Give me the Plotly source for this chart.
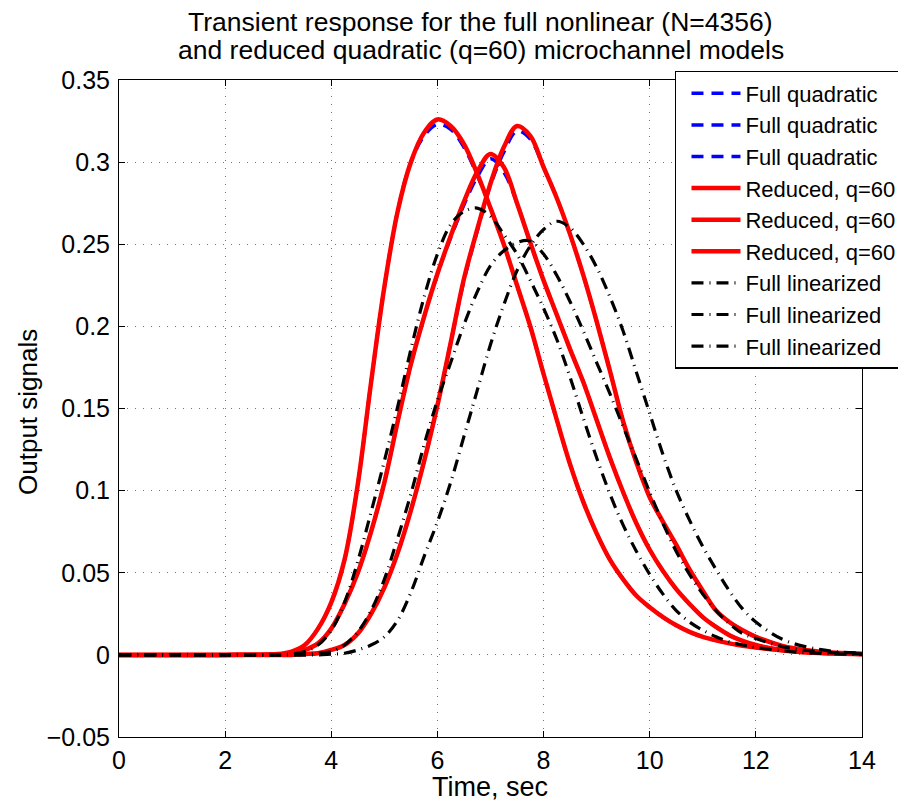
import plotly.graph_objects as go

# ---------------- data ----------------
time = [0, 1, 2,
        3, 3.25, 3.5, 3.75, 4, 4.25, 4.5, 4.75, 5, 5.25, 5.5, 5.75,
        6, 6.25, 6.5, 6.75, 7, 7.25, 7.5, 7.75, 8, 8.25, 8.5, 8.75,
        9, 9.25, 9.5, 9.75, 10, 10.25, 10.5, 10.75, 11, 11.25, 11.5, 11.75,
        12, 12.5, 13, 13.5, 14]

full_quad_1 = [0, 0, 0,
               0.0005, 0.002, 0.006, 0.016, 0.032, 0.058, 0.104, 0.166, 0.224, 0.270, 0.300, 0.316,
               0.323, 0.320, 0.309, 0.292, 0.272, 0.250, 0.225, 0.200, 0.171, 0.143, 0.116, 0.093,
               0.074, 0.058, 0.046, 0.036, 0.029, 0.023, 0.018, 0.014, 0.011, 0.0088, 0.0070, 0.0055,
               0.0045, 0.0027, 0.0016, 0.001, 0.0006]
full_quad_2 = [0, 0, 0,
               0.0003, 0.001, 0.003, 0.007, 0.016, 0.031, 0.050, 0.075, 0.105, 0.142, 0.177, 0.206,
               0.232, 0.254, 0.274, 0.291, 0.302, 0.294, 0.275, 0.251, 0.228, 0.207, 0.186, 0.166,
               0.143, 0.120, 0.099, 0.080, 0.064, 0.051, 0.040, 0.031, 0.023, 0.017, 0.012, 0.0085,
               0.006, 0.003, 0.0015, 0.0008, 0.0004]
full_quad_3 = [0, 0, 0,
               0, 0, 0.0005, 0.001, 0.003, 0.006, 0.013, 0.025, 0.041, 0.062, 0.088, 0.118,
               0.152, 0.190, 0.228, 0.258, 0.286, 0.306, 0.319, 0.314, 0.297, 0.278, 0.256, 0.231,
               0.203, 0.173, 0.142, 0.117, 0.096, 0.081, 0.067, 0.052, 0.039, 0.027, 0.020, 0.015,
               0.011, 0.0055, 0.0027, 0.0013, 0.0006]

reduced_1 = [0, 0, 0,
             0.0005, 0.002, 0.006, 0.016, 0.032, 0.058, 0.104, 0.166, 0.224, 0.270, 0.300, 0.318,
             0.326, 0.322, 0.311, 0.293, 0.272, 0.250, 0.225, 0.200, 0.171, 0.143, 0.116, 0.093,
             0.074, 0.058, 0.046, 0.036, 0.029, 0.023, 0.018, 0.014, 0.011, 0.0088, 0.0070, 0.0055,
             0.0045, 0.0027, 0.0016, 0.001, 0.0006]
reduced_2 = [0, 0, 0,
             0.0003, 0.001, 0.003, 0.007, 0.016, 0.031, 0.050, 0.075, 0.105, 0.142, 0.177, 0.206,
             0.232, 0.255, 0.276, 0.294, 0.305, 0.297, 0.275, 0.251, 0.228, 0.207, 0.186, 0.166,
             0.143, 0.120, 0.099, 0.080, 0.064, 0.051, 0.040, 0.031, 0.023, 0.017, 0.012, 0.0085,
             0.006, 0.003, 0.0015, 0.0008, 0.0004]
reduced_3 = [0, 0, 0,
             0, 0, 0.0005, 0.001, 0.003, 0.006, 0.013, 0.025, 0.041, 0.062, 0.088, 0.118,
             0.152, 0.190, 0.229, 0.259, 0.287, 0.309, 0.322, 0.316, 0.297, 0.278, 0.256, 0.231,
             0.203, 0.173, 0.142, 0.117, 0.096, 0.081, 0.067, 0.052, 0.039, 0.027, 0.020, 0.015,
             0.011, 0.0055, 0.0027, 0.0013, 0.0006]

linearized_1 = [0, 0, 0,
                0, 0.0005, 0.002, 0.006, 0.015, 0.032, 0.057, 0.087, 0.118, 0.151, 0.186, 0.218,
                0.244, 0.262, 0.270, 0.272, 0.267, 0.256, 0.244, 0.228, 0.211, 0.192, 0.169, 0.144,
                0.120, 0.098, 0.079, 0.063, 0.049, 0.037, 0.027, 0.020, 0.015, 0.011, 0.008, 0.006,
                0.0045, 0.0025, 0.0012, 0.0006, 0.0003]
linearized_2 = [0, 0, 0,
                0, 0, 0, 0.001, 0.002, 0.006, 0.014, 0.027, 0.046, 0.071, 0.098, 0.128,
                0.155, 0.178, 0.201, 0.221, 0.237, 0.246, 0.251, 0.252, 0.244, 0.231, 0.215, 0.197,
                0.178, 0.159, 0.139, 0.119, 0.099, 0.080, 0.063, 0.049, 0.037, 0.027, 0.019, 0.013,
                0.010, 0.005, 0.0025, 0.0012, 0.0006]
linearized_3 = [0, 0, 0,
                0, 0, 0, 0, 0.0005, 0.001, 0.003, 0.006, 0.011, 0.021, 0.038, 0.060,
                0.081, 0.105, 0.133, 0.161, 0.189, 0.213, 0.234, 0.249, 0.259, 0.264, 0.260, 0.250,
                0.236, 0.218, 0.197, 0.172, 0.147, 0.122, 0.100, 0.082, 0.066, 0.052, 0.039, 0.028,
                0.020, 0.0095, 0.0045, 0.002, 0.001]

x_ticks = [0, 2, 4, 6, 8, 10, 12, 14]
x_ticktext = ["0", "2", "4", "6", "8", "10", "12", "14"]
y_ticks = [-0.05, 0, 0.05, 0.1, 0.15, 0.2, 0.25, 0.3, 0.35]
y_ticktext = ["\u22120.05", "0", "0.05", "0.1", "0.15", "0.2", "0.25", "0.3", "0.35"]

title_lines = ["Transient response for the full nonlinear (N=4356)",
               "and reduced quadratic (q=60) microchannel models"]
x_label = "Time, sec"
y_label = "Output signals"

# ---------------- figure ----------------
FONT = "Liberation Sans, Arial, Helvetica, sans-serif"
fig = go.Figure()

for ys in [full_quad_1, full_quad_2, full_quad_3]:
    fig.add_trace(go.Scatter(x=time, y=ys, mode="lines", name="Full quadratic",
                             line=dict(color="#0000ff", width=3.5, dash="12px,8px", shape="spline")))
for ys in [reduced_1, reduced_2, reduced_3]:
    fig.add_trace(go.Scatter(x=time, y=ys, mode="lines", name="Reduced, q=60",
                             line=dict(color="#ff0000", width=4.5, shape="spline")))
for ys in [linearized_1, linearized_2, linearized_3]:
    fig.add_trace(go.Scatter(x=time, y=ys, mode="lines", name="Full linearized",
                             line=dict(color="#000000", width=3.2, dash="12px,6px,1px,6px", shape="spline")))

axis_common = dict(
    showline=True, linecolor="black", linewidth=1, mirror="ticks",
    ticks="inside", ticklen=6, tickcolor="black",
    showgrid=True, gridcolor="rgba(0,0,0,0.55)", gridwidth=1, griddash="1px,7px",
    zeroline=False, tickfont=dict(family=FONT, size=25, color="black"),
)

fig.update_xaxes(range=[0, 14], tickvals=x_ticks, ticktext=x_ticktext,
                 ticklabelstandoff=1, **axis_common)
fig.update_yaxes(range=[-0.05, 0.35], tickvals=y_ticks, ticktext=y_ticktext,
                 ticklabelstandoff=3, **axis_common)

title_font = dict(family=FONT, size=26.5, color="black")
annotations = [
    dict(text=title_lines[0], xref="paper", yref="paper", x=0.4872, y=1.0883,
         xanchor="center", yanchor="middle", showarrow=False, font=title_font),
    dict(text=title_lines[1], xref="paper", yref="paper", x=0.4872, y=1.0457,
         xanchor="center", yanchor="middle", showarrow=False, font=title_font),
    dict(text=x_label, xref="paper", yref="paper", x=0.4993, y=-0.0755,
         xanchor="center", yanchor="middle", showarrow=False,
         font=dict(family=FONT, size=27, color="black")),
    dict(text=y_label, xref="paper", yref="paper", x=-0.1225, y=0.4947,
         xanchor="center", yanchor="middle", showarrow=False, textangle=-90,
         font=dict(family=FONT, size=26, color="black")),
]

fig.update_layout(
    width=898, height=793,
    margin=dict(l=111, r=44, t=72, b=64, autoexpand=False),
    paper_bgcolor="white", plot_bgcolor="white",
    annotations=annotations,
    legend=dict(x=0.7483, y=1.0137, xanchor="left", yanchor="top",
                bgcolor="white", bordercolor="black", borderwidth=1.5,
                font=dict(family=FONT, size=22, color="black"),
                itemwidth=49, tracegroupgap=0, indentation=10),
    showlegend=True,
)

fig.write_html("out.html")
